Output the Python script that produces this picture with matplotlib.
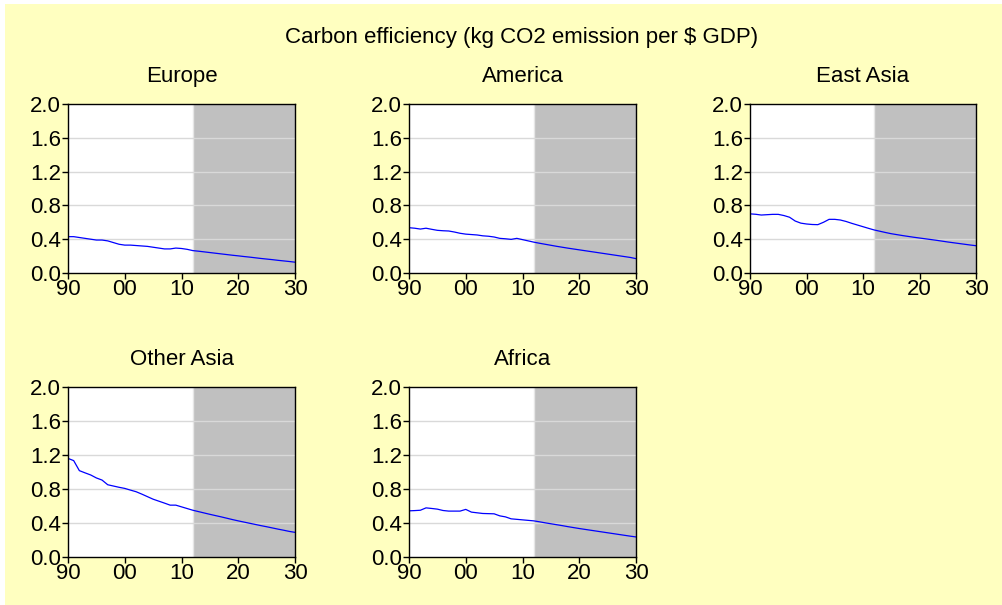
import matplotlib
matplotlib.use("Agg")
import matplotlib.pyplot as plt
from matplotlib.patches import Rectangle
from matplotlib.ticker import FixedLocator, FuncFormatter
from matplotlib.transforms import offset_copy

plt.rcParams['font.family'] = ['Liberation Sans', 'DejaVu Sans']

years = list(range(1990, 2031))
forecast_start = 2012

europe = [0.43, 0.43, 0.42, 0.41, 0.40, 0.39, 0.39, 0.38, 0.36, 0.34,
          0.33, 0.33, 0.325, 0.32, 0.315, 0.305, 0.295, 0.285, 0.285, 0.295,
          0.29, 0.28, 0.265, 0.258, 0.250, 0.242, 0.234, 0.226, 0.218, 0.210,
          0.203, 0.195, 0.188, 0.180, 0.172, 0.165, 0.158, 0.150, 0.143, 0.136,
          0.128]
america = [0.536, 0.53, 0.52, 0.53, 0.517, 0.505, 0.50, 0.497, 0.485, 0.47,
           0.46, 0.455, 0.45, 0.44, 0.435, 0.426, 0.41, 0.405, 0.398, 0.41,
           0.395, 0.38, 0.365, 0.352, 0.340, 0.328, 0.316, 0.305, 0.294, 0.284,
           0.274, 0.264, 0.254, 0.244, 0.234, 0.224, 0.214, 0.204, 0.194, 0.184,
           0.170]
east_asia = [0.70, 0.695, 0.686, 0.69, 0.694, 0.694, 0.68, 0.66, 0.615, 0.59,
             0.58, 0.574, 0.572, 0.60, 0.635, 0.635, 0.627, 0.61, 0.588, 0.568,
             0.548, 0.528, 0.509, 0.494, 0.479, 0.465, 0.454, 0.443, 0.433, 0.423,
             0.414, 0.405, 0.396, 0.387, 0.377, 0.367, 0.358, 0.349, 0.340, 0.331,
             0.323]
other_asia = [1.16, 1.134, 1.016, 0.99, 0.965, 0.93, 0.905, 0.85, 0.835, 0.82,
              0.807, 0.787, 0.768, 0.74, 0.71, 0.68, 0.657, 0.634, 0.61, 0.61,
              0.59, 0.57, 0.55, 0.534, 0.518, 0.502, 0.487, 0.472, 0.456, 0.440,
              0.425, 0.411, 0.397, 0.383, 0.369, 0.356, 0.342, 0.328, 0.315, 0.301,
              0.290]
africa = [0.543, 0.546, 0.55, 0.578, 0.571, 0.563, 0.547, 0.54, 0.54, 0.54,
          0.56, 0.528, 0.52, 0.512, 0.51, 0.508, 0.484, 0.472, 0.449, 0.443,
          0.437, 0.431, 0.425, 0.414, 0.402, 0.391, 0.380, 0.369, 0.357, 0.346,
          0.335, 0.325, 0.315, 0.305, 0.295, 0.285, 0.275, 0.265, 0.255, 0.245,
          0.236]

regions = ["Europe", "America", "East Asia", "Other Asia", "Africa"]
series = [europe, america, east_asia, other_asia, africa]

main_title = "Carbon efficiency (kg CO2 emission per $ GDP)"
y_ticks = [0.0, 0.4, 0.8, 1.2, 1.6, 2.0]
x_ticks = [1990, 2000, 2010, 2020, 2030]

W, H = 1003, 605
BG = "#FFFFC0"

fig = plt.figure(figsize=(W / 100, H / 100), dpi=100)
fig.patch.set_facecolor("white")
fig.add_artist(Rectangle((5 / W, 0), 1 - 5 / W, 1 - 4 / H,
                         transform=fig.transFigure, facecolor=BG,
                         edgecolor="none", zorder=-10))

# panel boxes in pixels: (left, top, right, bottom)
boxes = [(68, 104, 295, 273), (409, 104, 636, 273), (750, 104, 976, 273),
         (68, 387, 295, 557), (409, 387, 636, 557)]

FS = 16
for name, vals, (l, t, r, b) in zip(regions, series, boxes):
    ax = fig.add_axes([l / W, (H - b) / H, (r - l) / W, (b - t) / H])
    ax.set_facecolor("white")
    ax.axvspan(forecast_start, 2030, facecolor="#C0C0C0", edgecolor="none", zorder=0.5)
    ax.axvline(forecast_start, color="#E6E6E6", lw=1.0, zorder=0.6)
    for yv in y_ticks[1:-1]:
        ax.axhline(yv, color="#D9D9D9", lw=1.0, zorder=0.8)
    ax.plot(years, vals, color="#0000FF", lw=0.9, zorder=2)
    ax.set_xlim(1990, 2030)
    ax.set_ylim(0, 2.0)
    ax.yaxis.set_major_locator(FixedLocator(y_ticks))
    ax.xaxis.set_major_locator(FixedLocator(x_ticks))
    ax.yaxis.set_major_formatter(FuncFormatter(lambda v, p: f"{v:.1f}"))
    ax.xaxis.set_major_formatter(FuncFormatter(lambda v, p: f"{int(round(v)) % 100:02d}"))
    ax.tick_params(axis="both", labelsize=FS, length=4, width=1.0, colors="black",
                   direction="out", pad=1)
    ax.tick_params(axis="x", pad=0)
    for s in ax.spines.values():
        s.set_color("black")
        s.set_linewidth(1.0)
        s.set_zorder(3)
    tr = offset_copy(ax.transAxes, fig=fig, x=0, y=22, units="dots")
    ax.text(0.5, 1.0, name, transform=tr, ha="center", va="baseline", fontsize=FS)

fig.text(522 / W, 1 - 38 / H, main_title, ha="center", va="center", fontsize=FS)

fig.savefig("out.png", dpi=100, facecolor=fig.get_facecolor())
